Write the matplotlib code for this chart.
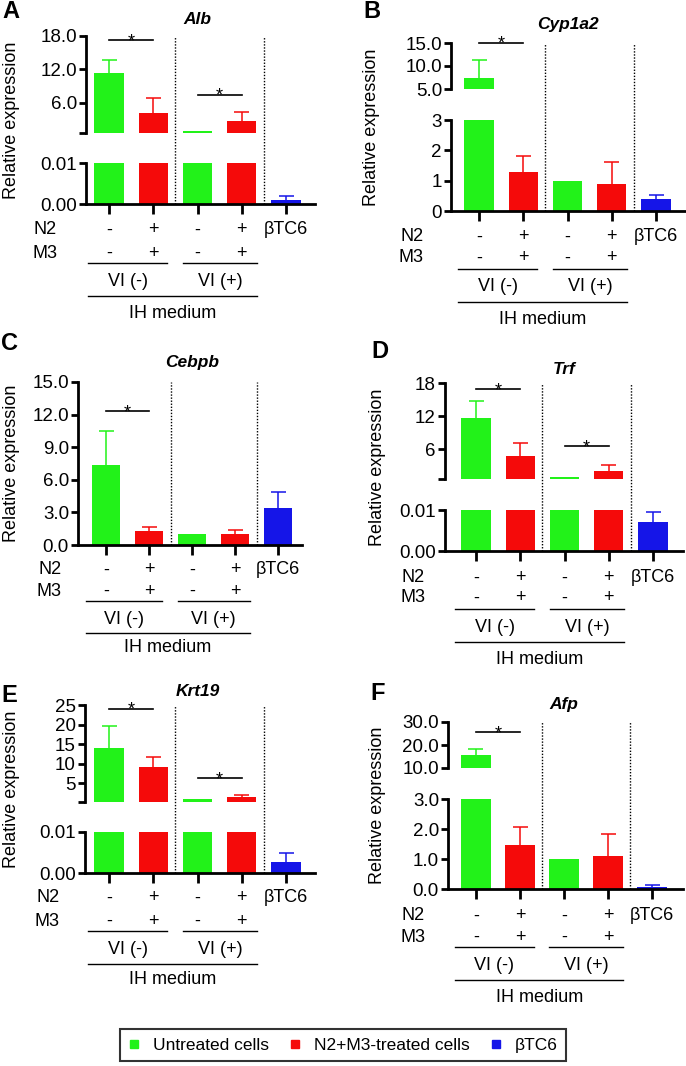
import matplotlib
matplotlib.use('Agg')
import matplotlib.pyplot as plt
from matplotlib.lines import Line2D
from matplotlib.transforms import blended_transform_factory
import numpy as np

plt.rcParams['font.family'] = ['Liberation Sans', 'DejaVu Sans']
plt.rcParams['font.size'] = 13

W, H = 686, 1066

GREEN = '#22f219'
RED = '#f50a0a'
BLUE = '#1515e8'
bar_colors = [GREEN, RED, GREEN, RED, BLUE]

n2_row = ['-', '+', '-', '+', 'βTC6']
m3_row = ['-', '+', '-', '+', '']
groups = ['VI (-)', 'VI (+)']
medium = 'IH medium'
legend_labels = ['Untreated cells', 'N2+M3-treated cells', 'βTC6']

# mean and upper error (SD) per bar: VI(-) untreated, VI(-) N2+M3, VI(+) untreated, VI(+) N2+M3, bTC6
alb_mean = [11.3, 4.1, 1.0, 2.8, 0.0009]
alb_err = [2.4, 2.7, 0.0, 1.6, 0.0011]
cyp1a2_mean = [7.4, 1.29, 1.0, 0.9, 0.38]
cyp1a2_err = [3.9, 0.52, 0.0, 0.7, 0.15]
cebpb_mean = [7.4, 1.25, 1.0, 1.0, 3.4]
cebpb_err = [3.1, 0.45, 0.0, 0.35, 1.45]
trf_mean = [11.7, 4.8, 1.0, 2.1, 0.0070]
trf_err = [3.1, 2.4, 0.0, 1.0, 0.0025]
krt19_mean = [14.0, 9.1, 1.0, 1.5, 0.0026]
krt19_err = [5.6, 2.5, 0.0, 0.5, 0.0024]
afp_mean = [15.6, 1.48, 1.0, 1.11, 0.07]
afp_err = [2.5, 0.58, 0.0, 0.72, 0.06]


def fx(px):
    return px / W


def fy(py):
    return 1 - py / H


def add_ax(fig, x0, x1, ytop, ybot):
    return fig.add_axes([fx(x0), fy(ybot), (x1 - x0) / W, (ybot - ytop) / H])


# layout of each panel in pixels
panels = [
    dict(letter='A', gene='Alb', mean=alb_mean, err=alb_err,
         x=(86, 315, 109, 44.25), letter_xy=(11, 12), title_y=20, ylab_x=12,
         segs=[dict(px=(36, 133), lim=(0.6, 18), ticks=[0.6, 6, 12, 18], labels=['', '6.0', '12.0', '18.0']),
               dict(px=(163, 204), lim=(0, 0.01), ticks=[0, 0.01], labels=['0.00', '0.01'])],
         rows=(230, 253, 263, 282, 296, 313), n2x=57,
         sig=[(0, 0, 1, 17.2), (0, 2, 3, 7.5)]),
    dict(letter='B', gene='Cyp1a2', mean=cyp1a2_mean, err=cyp1a2_err,
         x=(451, 685, 479, 44.25), letter_xy=(372, 11), title_y=25, ylab_x=371,
         segs=[dict(px=(43, 89), lim=(5, 15), ticks=[5, 10, 15], labels=['5.0', '10.0', '15.0']),
               dict(px=(120, 211), lim=(0, 3), ticks=[0, 1, 2, 3], labels=['0', '1', '2', '3'])],
         rows=(237, 258, 269, 287, 302, 319), n2x=424,
         sig=[(0, 0, 1, 15.05)]),
    dict(letter='C', gene='Cebpb', mean=cebpb_mean, err=cebpb_err,
         x=(78, 302, 106, 43), letter_xy=(10, 343), title_y=363, ylab_x=12,
         segs=[dict(px=(382, 545), lim=(0, 15), ticks=[0, 3, 6, 9, 12, 15],
                    labels=['0.0', '3.0', '6.0', '9.0', '12.0', '15.0'])],
         rows=(570, 591, 601, 619, 633, 648), n2x=62,
         sig=[(0, 0, 1, 12.3)]),
    dict(letter='D', gene='Trf', mean=trf_mean, err=trf_err,
         x=(445, 683, 476, 44.25), letter_xy=(380, 352), title_y=370, ylab_x=378,
         segs=[dict(px=(383, 479), lim=(0.6, 18), ticks=[0.6, 6, 12, 18], labels=['', '6', '12', '18']),
               dict(px=(510, 551), lim=(0, 0.01), ticks=[0, 0.01], labels=['0.00', '0.01'])],
         rows=(578, 598, 609, 627, 642, 660), n2x=425,
         sig=[(0, 0, 1, 16.9), (0, 2, 3, 6.5)]),
    dict(letter='E', gene='Krt19', mean=krt19_mean, err=krt19_err,
         x=(85, 315, 109, 44.25), letter_xy=(9, 695), title_y=692, ylab_x=12,
         segs=[dict(px=(705, 802), lim=(0.2, 25), ticks=[0.2, 5, 10, 15, 20, 25],
                    labels=['', '5', '10', '15', '20', '25']),
               dict(px=(832, 873), lim=(0, 0.01), ticks=[0, 0.01], labels=['0.00', '0.01'])],
         rows=(898, 921, 931, 950, 964, 980), n2x=60,
         sig=[(0, 0, 1, 24.1), (0, 2, 3, 6.3)]),
    dict(letter='F', gene='Afp', mean=afp_mean, err=afp_err,
         x=(448, 683, 476, 44), letter_xy=(378, 694), title_y=705, ylab_x=378,
         segs=[dict(px=(722, 768), lim=(10, 30), ticks=[10, 20, 30], labels=['10.0', '20.0', '30.0']),
               dict(px=(799, 889), lim=(0, 3), ticks=[0, 1, 2, 3], labels=['0.0', '1.0', '2.0', '3.0'])],
         rows=(916, 937, 947, 965, 980, 998), n2x=425,
         sig=[(0, 0, 1, 25.7)]),
]


def draw_panel(fig, p):
    x0, x1, b0, sp = p['x']
    xlim = ((x0 - b0) / sp, (x1 - b0) / sp)
    pos = np.arange(len(p['mean']))
    cap = 7.5 / sp  # half cap width in bar units
    seg_axes = []
    for i, s in enumerate(p['segs']):
        ax = add_ax(fig, x0, x1, s['px'][0], s['px'][1])
        ax.set_xlim(xlim)
        ax.set_ylim(s['lim'])
        ax.bar(pos, p['mean'], width=0.66, color=bar_colors, zorder=2)
        # upper error bars only
        for xi, m, e, c in zip(pos, p['mean'], p['err'], bar_colors):
            if e > 0:
                ax.plot([xi, xi], [m, m + e], color=c, lw=1.1, zorder=1, solid_capstyle='butt')
                ax.plot([xi - cap, xi + cap], [m + e, m + e], color=c, lw=1.1, zorder=1,
                        solid_capstyle='butt')
        ax.patch.set_alpha(0)
        ax.spines['top'].set_visible(False)
        ax.spines['right'].set_visible(False)
        last = i == len(p['segs']) - 1
        ax.spines['bottom'].set_visible(last)
        ax.spines['left'].set_linewidth(2)
        ax.spines['bottom'].set_linewidth(2)
        ax.set_yticks(s['ticks'])
        ax.set_yticklabels(s['labels'])
        ax.tick_params(axis='y', length=5, width=2, pad=1.5, labelsize=13.5)
        if last:
            ax.set_xticks(pos)
            ax.set_xticklabels([])
            ax.tick_params(axis='x', length=7, width=2)
        else:
            ax.set_xticks([])
        seg_axes.append(ax)

    # overlay spanning all segments for separators and labels
    ytop = p['segs'][0]['px'][0]
    ybot = p['segs'][-1]['px'][1]
    axo = add_ax(fig, x0, x1, ytop, ybot)
    axo.set_xlim(xlim)
    axo.set_ylim(0, 1)
    axo.axis('off')
    for xv in (1.5, 3.5):
        axo.axvline(xv, color='k', lw=1, ls=(0, (1, 1.2)))

    # significance bars
    for si, a, b, y in p['sig']:
        ax = seg_axes[si]
        ax.plot([a, b], [y, y], color='k', lw=1.2, clip_on=False)
        ax.annotate('*', xy=((a + b) / 2, y), xytext=(0, -4.4), textcoords='offset points',
                    ha='center', va='baseline', fontsize=13, annotation_clip=False)

    tr = blended_transform_factory(axo.transData, fig.transFigure)
    r_n2, r_m3, r_l1, r_vi, r_l2, r_ih = p['rows']
    for xi, a, b in zip(pos, n2_row, m3_row):
        axo.text(xi, fy(r_n2), a, transform=tr, ha='center', va='center')
        if b:
            axo.text(xi, fy(r_m3), b, transform=tr, ha='center', va='center')
    fig.text(fx(p['n2x']), fy(r_n2), 'N2', ha='right', va='center')
    fig.text(fx(p['n2x']), fy(r_m3), 'M3', ha='right', va='center')
    spans = [(-0.47, 1.31), (1.67, 3.34)]
    for (a, b), g in zip(spans, groups):
        axo.plot([a, b], [fy(r_l1)] * 2, color='k', lw=1, transform=tr, clip_on=False)
        axo.text((a + b) / 2, fy(r_vi), g, transform=tr, ha='center', va='center')
    axo.plot([spans[0][0], spans[1][1]], [fy(r_l2)] * 2, color='k', lw=1, transform=tr, clip_on=False)
    axo.text((spans[0][0] + spans[1][1]) / 2, fy(r_ih), medium, transform=tr, ha='center', va='center')

    axo.text(2, fy(p['title_y']), p['gene'], transform=tr, ha='center', va='center',
             fontweight='bold', fontstyle='italic', fontsize=12.5)
    fig.text(fx(p['ylab_x']), fy((ytop + ybot) / 2), 'Relative expression',
             rotation=90, ha='center', va='center', fontsize=13)
    lx, ly = p['letter_xy']
    fig.text(fx(lx), fy(ly), p['letter'], ha='center', va='center', fontsize=17, fontweight='bold')


fig = plt.figure(figsize=(W / 100, H / 100), dpi=100)
for p in panels:
    draw_panel(fig, p)

handles = [Line2D([], [], ls='none', marker='s', markersize=6, color=c) for c in (GREEN, RED, BLUE)]
leg = fig.legend(handles, legend_labels, loc='center', bbox_to_anchor=(0.5, fy(1045)), ncol=3,
                 frameon=True, fancybox=False, edgecolor='k', handlelength=0.6, handletextpad=0.8,
                 columnspacing=1.2, borderpad=0.5, fontsize=12.5)
leg.get_frame().set_linewidth(1.5)

fig.savefig('out.png', dpi=100)
